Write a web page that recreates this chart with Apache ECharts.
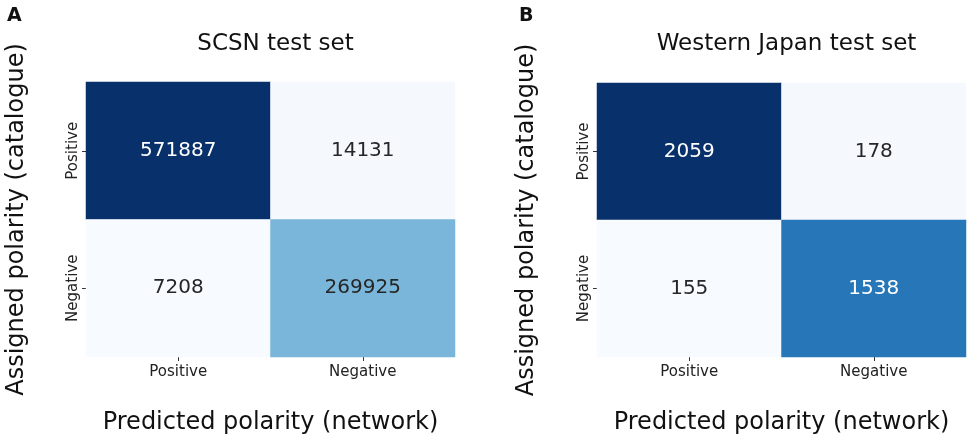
<!DOCTYPE html>
<html>
<head>
<meta charset="utf-8">
<script src="https://cdn.jsdelivr.net/npm/echarts@6/dist/echarts.min.js"></script>
<style>
html,body{margin:0;padding:0;background:#fff;}
#chart{width:969px;height:440px;}
</style>
</head>
<body>
<div id="chart"></div>
<script>
// Data
const predictedCats = ['Positive', 'Negative'];
const assignedCats = ['Positive', 'Negative'];
const panelTitles = ['SCSN test set', 'Western Japan test set'];
const panelLetters = ['A', 'B'];
// rows: assigned Positive, Negative ; cols: predicted Positive, Negative
const scsnValues = [[571887, 14131], [7208, 269925]];
const japanValues = [[2059, 178], [155, 1538]];

const blues = ['#f7fbff','#deebf7','#c6dbef','#9ecae1','#6baed6','#4292c6','#2171b5','#08519c','#08306b'];
const FONT = 'DejaVu Sans';

function toCells(m) {
  const out = [];
  for (let r = 0; r < m.length; r++)
    for (let c = 0; c < m[r].length; c++)
      out.push([c, r, m[r][c]]);
  return out;
}
function flat(m) { return m.reduce((a, b) => a.concat(b), []); }

const mats = [scsnValues, japanValues];
const grids = [
  {left: 86, top: 82, width: 369, height: 275},
  {left: 597, top: 83, width: 369, height: 274}
];

const option = {
  backgroundColor: '#fff',
  animation: false,
  textStyle: {fontFamily: FONT},
  title: [],
  grid: grids,
  xAxis: [],
  yAxis: [],
  visualMap: [],
  series: []
};

mats.forEach((m, i) => {
  const g = grids[i];
  option.title.push({
    text: panelTitles[i], left: g.left + g.width / 2, top: 28, textAlign: 'center',
    textStyle: {fontFamily: FONT, fontSize: 23, fontWeight: 'normal', color: '#111'}
  });
  option.title.push({
    text: panelLetters[i], left: i === 0 ? 2 : 514, top: 2,
    textStyle: {fontFamily: FONT, fontSize: 19, fontWeight: 'bold', color: '#111'}
  });
  option.xAxis.push({
    type: 'category', gridIndex: i, data: predictedCats, position: 'bottom',
    axisLine: {show: false},
    axisTick: {show: true, length: 4, lineStyle: {color: '#333'}, alignWithLabel: true},
    axisLabel: {fontFamily: FONT, fontSize: 15, color: '#222', margin: 8},
    splitLine: {show: false}, splitArea: {show: false},
    name: 'Predicted polarity (network)', nameLocation: 'middle', nameGap: 54,
    nameTextStyle: {fontFamily: FONT, fontSize: 24, color: '#111'}
  });
  option.yAxis.push({
    type: 'category', gridIndex: i, data: assignedCats, inverse: true,
    axisLine: {show: false},
    axisTick: {show: true, length: 4, lineStyle: {color: '#333'}, alignWithLabel: true},
    axisLabel: {fontFamily: FONT, fontSize: 15, color: '#222', rotate: 90, margin: 5},
    splitLine: {show: false}, splitArea: {show: false},
    name: 'Assigned polarity (catalogue)', nameLocation: 'middle', nameGap: i === 0 ? 57 : 58,
    nameTextStyle: {fontFamily: FONT, fontSize: 24, color: '#111'}
  });
  const vals = flat(m);
  const vmin = Math.min(...vals), vmax = Math.max(...vals);
  option.visualMap.push({
    show: false, type: 'continuous', seriesIndex: i, dimension: 2,
    min: vmin, max: vmax,
    inRange: {color: blues}
  });
  option.series.push({
    type: 'heatmap', xAxisIndex: i, yAxisIndex: i,
    data: toCells(m).map(d => {
      const t = (d[2] - vmin) / (vmax - vmin);
      return {value: d, label: {color: t > 0.6 ? '#ffffff' : '#262626'}};
    }),
    label: {
      show: true, fontFamily: FONT, fontSize: 20,
      formatter: p => String(p.value[2])
    },
    itemStyle: {borderWidth: 0}
  });
});

const chart = echarts.init(document.getElementById('chart'), null, {renderer: 'canvas'});
chart.setOption(option);
</script>
</body>
</html>
